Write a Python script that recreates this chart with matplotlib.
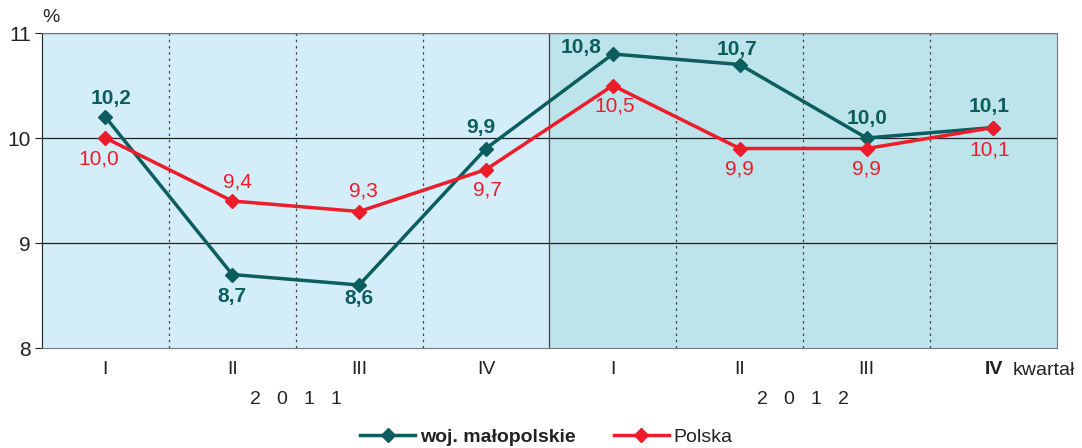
import matplotlib.pyplot as plt
import numpy as np

plt.rcParams['font.family'] = ['Liberation Sans', 'DejaVu Sans']

#quarter labels and values
quarters = ["I", "II", "III", "IV", "I", "II", "III", "IV"]
years = ["2   0   1   1", "2   0   1   2"]
malopolskie = [10.2, 8.7, 8.6, 9.9, 10.8, 10.7, 10.0, 10.1]
polska = [10.0, 9.4, 9.3, 9.7, 10.5, 9.9, 9.9, 10.1]

#label offsets in points (dx, dy) for each series
mal_offsets = [(4, 13), (0, -16), (0, -10), (-4, 15), (-23, 5), (-2, 11), (0, 14), (-3, 15)]
pol_offsets = [(-5, -15), (4, 14), (3, 15), (1, -15), (1, -15), (0, -15), (0, -15), (-3, -16)]

teal = "#0b5d5e"
red = "#ec1c2a"

fig = plt.figure(figsize=(10.82, 4.48), dpi=100)
ax = fig.add_axes([0.0388, 0.2232, 0.938, 0.7031])

x = np.arange(len(quarters))
ax.set_xlim(-0.5, len(quarters) - 0.5)
ax.set_ylim(8, 11)

#background per year
ax.axvspan(-0.5, 3.5, color="#d3eef9", zorder=0)
ax.axvspan(3.5, 7.5, color="#bee4eb", zorder=0)

#grid
for y in [9, 10, 11]:
    ax.axhline(y, color="#222222", lw=0.9, zorder=1)
for b in [0.5, 1.5, 2.5, 4.5, 5.5, 6.5]:
    ax.axvline(b, color="#444444", lw=0.9, ls=(0, (2, 3)), zorder=1)
ax.axvline(3.5, color="#444444", lw=0.9, zorder=1)

ax.plot(x, malopolskie, color=teal, lw=2.5, marker="D", ms=7.5, zorder=3, label="woj. małopolskie")
ax.plot(x, polska, color=red, lw=2.5, marker="D", ms=7.5, zorder=4, label="Polska")

for i in range(len(x)):
    ax.annotate(f"{malopolskie[i]:.1f}".replace(".", ","), (x[i], malopolskie[i]),
                xytext=mal_offsets[i], textcoords="offset points", ha="center", va="center",
                color=teal, fontsize=15, fontweight="bold", zorder=5)
    ax.annotate(f"{polska[i]:.1f}".replace(".", ","), (x[i], polska[i]),
                xytext=pol_offsets[i], textcoords="offset points", ha="center", va="center",
                color=red, fontsize=15, zorder=5)

ax.set_yticks([8, 9, 10, 11])
ax.set_yticklabels(["8", "9", "10", "11"], fontsize=15, color="#222222")
ax.tick_params(axis="y", length=5, color="#222222", pad=3)
ax.set_xticks(x)
ax.set_xticklabels(quarters, fontsize=14, color="#222222")
ax.get_xticklabels()[-1].set_fontweight("bold")
ax.tick_params(axis="x", length=0, pad=9)

for s in ["top", "right", "bottom"]:
    ax.spines[s].set_color("#777777")
ax.spines["left"].set_color("#222222")

ax.text(-0.5, 11.07, "%", fontsize=14, color="#222222", ha="left", va="bottom", transform=ax.transData)
ax.annotate("kwartał", (7, 8), xytext=(14, -16), textcoords="offset points",
            fontsize=14, color="#222222", ha="left", va="center", annotation_clip=False)
ax.annotate(years[0], (1.5, 8), xytext=(0, -37), textcoords="offset points",
            fontsize=14, color="#222222", ha="center", va="center", annotation_clip=False)
ax.annotate(years[1], (5.5, 8), xytext=(0, -37), textcoords="offset points",
            fontsize=14, color="#222222", ha="center", va="center", annotation_clip=False)

leg = fig.legend(loc="center", bbox_to_anchor=(0.505, 0.025), ncol=2, frameon=False,
                 fontsize=14, handlelength=2.8, columnspacing=2.0, handletextpad=0.25)
leg.get_texts()[0].set_fontweight("bold")
for t in leg.get_texts():
    t.set_color("#222222")

fig.savefig("out.png", dpi=100)
